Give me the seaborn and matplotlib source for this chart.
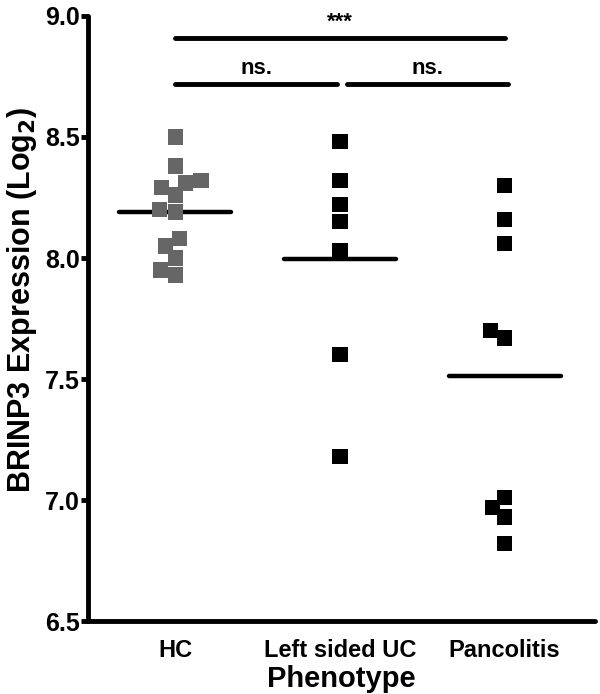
import pandas as pd
import seaborn as sns
import matplotlib.pyplot as plt

# values (log2 expression)
groups = ["HC", "Left sided UC", "Pancolitis"]
hc = [8.50, 8.38, 8.32, 8.26, 8.31, 8.29, 8.19, 8.20, 8.08, 8.05, 8.00, 7.95, 7.93]
left_uc = [8.48, 8.32, 8.22, 8.15, 8.03, 7.60, 7.18]
pancolitis = [8.30, 8.16, 8.06, 7.67, 7.70, 6.97, 7.01, 6.93, 6.82]
yticks = [6.5, 7.0, 7.5, 8.0, 8.5, 9.0]

df = pd.DataFrame({
    "Phenotype": ["HC"] * len(hc) + ["Left sided UC"] * len(left_uc) + ["Pancolitis"] * len(pancolitis),
    "value": hc + left_uc + pancolitis,
})

sns.set_style("ticks")
plt.rcParams["font.family"] = ["Liberation Sans", "DejaVu Sans"]
plt.rcParams["font.weight"] = "bold"
for k in ["text.color", "axes.labelcolor", "xtick.color", "ytick.color", "axes.edgecolor"]:
    plt.rcParams[k] = "black"

fig = plt.figure(figsize=(6, 6.94), dpi=100)
ax = fig.add_axes([0.147, 0.105, 0.845, 0.872])

sns.swarmplot(data=df, x="Phenotype", y="value", order=groups, hue="Phenotype",
              palette={"HC": "#666666", "Left sided UC": "black", "Pancolitis": "black"},
              marker="s", size=11, linewidth=0, legend=False, ax=ax)

# mean lines
means = df.groupby("Phenotype")["value"].mean()
for i, g in enumerate(groups):
    ax.hlines(means[g], i - 0.34, i + 0.34, color="black", lw=3.2, capstyle="round", zorder=1)

# significance brackets
def bracket(x1, x2, y, label):
    ax.plot([x1, x2], [y, y], color="black", lw=3.5, solid_capstyle="round", clip_on=False)
    ax.text((x1 + x2) / 2, y + 0.02, label, ha="center", va="bottom", fontsize=16, fontweight="bold")

bracket(0.0, 2.0, 8.91, "***")
bracket(0.0, 0.98, 8.72, "ns.")
bracket(1.04, 2.02, 8.72, "ns.")

ax.set_ylim(6.5, 9.0)
ax.set_xlim(-0.53, 2.55)
ax.set_yticks(yticks)
ax.set_yticklabels([f"{t:.1f}" for t in yticks], fontsize=18, fontweight="bold")
ax.tick_params(axis="y", length=5, width=3.5, pad=1)
ax.tick_params(axis="x", length=0, pad=13, labelsize=17)
for lab in ax.get_xticklabels():
    lab.set_fontweight("bold")
ax.set_xlabel("Phenotype", fontsize=21, fontweight="bold", labelpad=2)
ax.set_ylabel("BRINP3 Expression (Log$_\\mathbf{2}$)", fontsize=22, fontweight="bold")
ax.yaxis.set_label_coords(-0.098, 0.53)

sns.despine(ax=ax)
for s in ["left", "bottom"]:
    ax.spines[s].set_linewidth(3.5)
    ax.spines[s].set_capstyle("round")

fig.savefig("out.png", dpi=100)
